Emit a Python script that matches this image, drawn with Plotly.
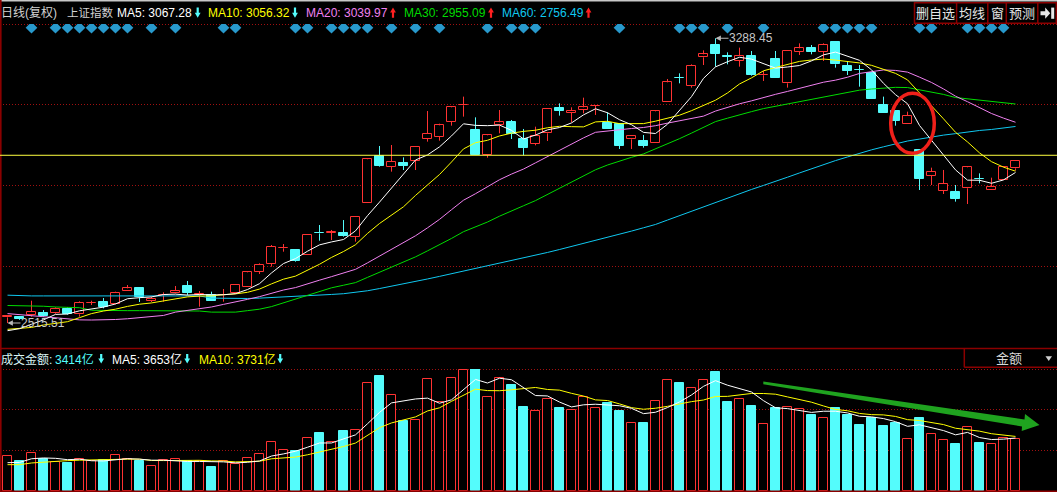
import plotly.graph_objects as go
import pandas as pd

W, H = 1057, 492

# ---------------- data ----------------
opens = [2530.8, 2532.6, 2536.3, 2543.5, 2541.7, 2554.4, 2539.0, 2570.0, 2572.5, 2568.0,
         2601.4, 2610.5, 2575.2, 2590.6, 2597.8, 2615.9, 2592.4, 2590.6, 2590.6, 2596.9,
         2614.1, 2654.8, 2676.6, 2718.2, 2712.7, 2701.0, 2759.8, 2760.7, 2758.9, 2749.9,
         2840.3, 2968.9, 2939.9, 2949.9, 2956.2, 3015.9, 3021.4, 3062.0, 3106.5, 3039.5,
         2970.7, 3052.1, 3061.2, 3015.0, 3002.4, 3030.4, 3099.2, 3085.6, 3094.7, 3104.8,
         3058.5, 3055.7, 3014.1, 3009.6, 3003.3, 3114.5, 3181.5, 3158.9, 3236.7, 3270.2,
         3239.5, 3226.8, 3240.3, 3188.0, 3231.3, 3166.1, 3252.1, 3262.0, 3252.1, 3279.3,
         3213.2, 3203.2, 3193.3, 3107.3, 3091.0, 3054.8, 2985.2, 2915.5, 2874.7, 2871.1,
         2881.1, 2906.4, 2875.6, 2903.7, 2935.4]
highs = [2535.5, 2534.0, 2576.0, 2550.7, 2558.0, 2558.0, 2574.3, 2576.0, 2583.3, 2600.5,
         2618.6, 2610.5, 2587.0, 2598.7, 2615.9, 2629.5, 2602.3, 2600.5, 2607.8, 2617.7,
         2654.8, 2677.5, 2727.2, 2729.9, 2715.5, 2753.5, 2781.5, 2768.0, 2795.0, 2802.3,
         2960.5, 2996.0, 2998.7, 2965.2, 2992.4, 3091.0, 3056.6, 3104.6, 3130.0, 3073.8,
         3027.7, 3093.7, 3066.6, 3042.2, 3048.5, 3095.6, 3111.8, 3101.0, 3127.2, 3107.3,
         3087.4, 3057.5, 3023.2, 3025.9, 3092.7, 3177.9, 3193.3, 3217.7, 3255.7, 3288.45,
         3250.3, 3263.0, 3253.9, 3199.6, 3253.9, 3253.9, 3274.7, 3270.2, 3274.7, 3279.3,
         3225.0, 3215.9, 3193.3, 3130.0, 3091.0, 3089.2, 2985.2, 2937.2, 2930.9, 2890.1,
         2941.7, 2921.8, 2910.0, 2941.7, 2954.4]
lows = [2515.51, 2524.0, 2532.7, 2532.7, 2539.9, 2537.2, 2532.7, 2564.3, 2555.3, 2566.2,
        2601.4, 2572.5, 2572.5, 2573.4, 2596.0, 2591.5, 2559.8, 2576.1, 2573.4, 2594.2,
        2614.1, 2648.5, 2668.4, 2709.1, 2682.0, 2700.0, 2738.9, 2740.8, 2749.9, 2736.3,
        2840.0, 2939.9, 2926.3, 2930.8, 2930.8, 3007.8, 3010.5, 3051.2, 3075.7, 2970.7,
        2964.3, 3030.4, 3015.0, 2970.7, 2997.8, 3009.6, 3078.4, 3060.3, 3084.7, 3080.2,
        3042.2, 2987.9, 2987.9, 2991.5, 3003.3, 3114.5, 3166.1, 3154.4, 3215.9, 3211.4,
        3217.7, 3211.4, 3186.9, 3172.5, 3179.7, 3154.4, 3243.1, 3244.9, 3226.8, 3208.7,
        3188.8, 3157.1, 3123.6, 3086.5, 3051.2, 3054.8, 2876.6, 2890.1, 2865.7, 2844.9,
        2838.5, 2894.6, 2875.6, 2903.7, 2929.0]
closes = [2534.5, 2526.5, 2545.3, 2534.5, 2553.5, 2539.0, 2570.7, 2570.7, 2558.9, 2596.9,
          2609.6, 2585.2, 2580.6, 2591.5, 2602.3, 2596.9, 2593.3, 2576.1, 2591.5, 2617.7,
          2653.0, 2672.9, 2721.8, 2719.1, 2684.7, 2753.5, 2758.9, 2761.6, 2751.7, 2802.3,
          2959.8, 2942.6, 2952.6, 2942.6, 2992.4, 3028.6, 3052.1, 3101.0, 3107.3, 2970.7,
          3025.0, 3060.3, 3028.6, 2991.5, 3023.2, 3095.6, 3091.9, 3091.0, 3101.0, 3105.5,
          3042.2, 2997.0, 3023.2, 2997.0, 3090.0, 3168.8, 3180.5, 3214.1, 3244.9, 3245.8,
          3238.5, 3241.2, 3188.8, 3188.8, 3179.7, 3253.9, 3261.1, 3252.1, 3270.2, 3217.7,
          3200.5, 3202.3, 3123.6, 3086.5, 3063.9, 3077.5, 2907.3, 2925.4, 2892.8, 2853.0,
          2938.1, 2905.5, 2884.7, 2938.1, 2954.4]
volumes = [1486, 1285, 1615, 1383, 1229, 1199, 1383, 1285, 1341, 1529,
           1383, 1285, 1058, 1341, 1358, 1285, 1285, 1028, 1285, 1144,
           1401, 1572, 2086, 1743, 1713, 2257, 2484, 2086, 2570, 2625,
           4638, 4913, 4125, 2985, 3054, 4810, 3825, 4853, 5195, 5212,
           4039, 4853, 4527, 3585, 3439, 3953, 3542, 3482, 4039, 3568,
           3756, 3414, 2925, 2900, 3868, 4767, 4613, 4424, 4741, 5084,
           3799, 3953, 3628, 2882, 3568, 3611, 3525, 3242, 3139, 3568,
           3242, 2814, 3114, 2771, 2912, 2240, 3139, 2454, 2197, 2000,
           2754, 2043, 2026, 2283, 2240]

# moving-average values before a full window exists
ma5_head = [2494.6, 2500.0, 2512.0, 2524.0]
ma10_head = [2498.3, 2501.0, 2503.5, 2510.0, 2514.0, 2519.0, 2530.0, 2541.0, 2548.0]
ma20_head = [2541, 2538, 2535, 2531, 2528, 2526, 2524, 2523.6, 2524, 2525,
             2527, 2530, 2533, 2536, 2545, 2550, 2553.5, 2559, 2566]
ma30_head = [2563, 2563, 2562, 2561, 2559, 2558, 2557, 2550, 2549, 2549,
             2549, 2549, 2549, 2549, 2549, 2548, 2548, 2545, 2544, 2545,
             2549, 2553, 2560, 2570, 2579, 2590, 2601, 2611, 2618]
ma60_head = [2591] + [2589] * 16 + [2583, 2582, 2582, 2582, 2583, 2585, 2587, 2589, 2590.5,
             2592, 2593, 2595, 2598, 2603, 2609, 2615, 2621, 2628, 2635, 2642, 2649, 2656,
             2663, 2670, 2677, 2684, 2691, 2699, 2707, 2715, 2723, 2731, 2739, 2748, 2756.5,
             2765, 2774, 2783, 2795, 2807, 2819, 2831]
vol_ma5_head = [1213, 1225, 1380, 1415]
vol_ma10_head = [1128, 1128, 1200, 1240, 1260, 1300, 1320, 1335, 1345]

signal_idx = [2, 4, 5, 6, 7, 8, 9, 10, 12, 14, 18, 19, 24, 25, 27, 28, 29, 30, 32, 34, 36,
              40, 42, 43, 44, 51, 56, 57, 58, 60, 63, 68, 69, 70, 71, 72, 76, 77, 80, 81, 82, 83]
signal_level = 3317.0
hline_price = 2970.8

header_items = [("日线(复权)", "#D2D2D2"), ("上证指数", "#D2D2D2"),
                ("MA5: 3067.28", "#FFFFFF"), ("MA10: 3056.32", "#FFFF00"),
                ("MA20: 3039.97", "#F080F0"), ("MA30: 2955.09", "#00DC00"),
                ("MA60: 2756.49", "#10C8F0")]
header_trend = ["down", "down", "up", "up", "up"]
vol_header_items = [("成交金额:", "#D8F4F4"), ("3414亿", "#54FCFC"),
                    ("MA5: 3653亿", "#FFFFFF"), ("MA10: 3731亿", "#FFFF00")]
vol_trend = ["down", "down", "down"]
buttons = ["删自选", "均线", "窗", "预测"]

# ---------------- styling ----------------
RED = "#FF3232"
CYAN = "#54FCFC"
GRID = "#A01010"
FRAME = "#8B0000"
FONT = "Liberation Sans, Arial, Noto Sans CJK SC"


def moving(values, n, head):
    s = pd.Series(values, dtype=float).rolling(n).mean().tolist()
    return list(head) + s[len(head):]


n = len(closes)
xs = list(range(n))
ma5 = moving(closes, 5, ma5_head)
ma10 = moving(closes, 10, ma10_head)
ma20 = moving(closes, 20, ma20_head)
ma30 = moving(closes, 30, ma30_head)
ma60 = moving(closes, 60, ma60_head)
vma5 = moving(volumes, 5, vol_ma5_head)
vma10 = moving(volumes, 10, vol_ma10_head)

up = [c >= o for o, c in zip(opens, closes)]

fig = go.Figure()

# wicks
for flag, col in ((True, RED), (False, CYAN)):
    wx, wy = [], []
    for i in xs:
        if up[i] != flag:
            continue
        top = max(opens[i], closes[i])
        bot = min(opens[i], closes[i])
        wx += [i, i, None, i, i, None]
        wy += [highs[i], top, None, bot, lows[i], None]
    fig.add_trace(go.Scatter(x=wx, y=wy, mode="lines", line=dict(color=col, width=1),
                             hoverinfo="skip", connectgaps=False))

# bodies
for flag, fill, col in ((True, "#000000", RED), (False, CYAN, CYAN)):
    bx = [i for i in xs if up[i] == flag]
    fig.add_trace(go.Bar(x=bx, y=[abs(closes[i] - opens[i]) for i in bx],
                         base=[min(opens[i], closes[i]) for i in bx], width=0.7,
                         marker=dict(color=fill, line=dict(color=col, width=1))))

# price moving averages
for vals, col in ((ma60, "#10C8F0"), (ma30, "#00DC00"), (ma20, "#F080F0"),
                  (ma10, "#FFFF00"), (ma5, "#FFFFFF")):
    fig.add_trace(go.Scatter(x=xs, y=vals, mode="lines", line=dict(color=col, width=1)))

# signal diamonds
fig.add_trace(go.Scatter(x=signal_idx, y=[signal_level] * len(signal_idx), mode="markers",
                         marker=dict(symbol="diamond", size=9, color="#2899CC")))

# volume bars
for flag, fill, col in ((True, "#000000", RED), (False, CYAN, CYAN)):
    bx = [i for i in xs if up[i] == flag]
    fig.add_trace(go.Bar(x=bx, y=[volumes[i] for i in bx], width=0.7, yaxis="y2",
                         marker=dict(color=fill, line=dict(color=col, width=1))))
for vals, col in ((vma10, "#FFFF00"), (vma5, "#FFFFFF")):
    fig.add_trace(go.Scatter(x=xs, y=vals, mode="lines", yaxis="y2",
                             line=dict(color=col, width=1)))


def px(x):
    return x / W


def py(y):
    return 1 - y / H


shapes = []


def path_shape(pts, color):
    p = "M " + " L ".join("{},{}".format(px(a), py(b)) for a, b in pts) + " Z"
    shapes.append(dict(type="path", xref="paper", yref="paper", path=p, fillcolor=color,
                       line=dict(width=0)))


def trend_arrow(cx, yt, yb, direction):
    # thick arrow glyph: shaft plus triangular head
    if direction == "down":
        hy = yb - 5.0
        pts = [(cx - 1.1, yt), (cx + 1.1, yt), (cx + 1.1, hy), (cx + 2.9, hy), (cx, yb),
               (cx - 2.9, hy), (cx - 1.1, hy)]
        path_shape(pts, CYAN)
    else:
        hy = yt + 5.0
        pts = [(cx - 1.1, yb), (cx + 1.1, yb), (cx + 1.1, hy), (cx + 2.9, hy), (cx, yt),
               (cx - 2.9, hy), (cx - 1.1, hy)]
        path_shape(pts, "#FF2020")


def hdot(y):
    shapes.append(dict(type="line", xref="paper", yref="paper", x0=0, x1=1, y0=py(y), y1=py(y),
                       line=dict(color=GRID, width=1, dash="1px,2px"), layer="below"))


for y in (24.5, 104.5, 185.5, 266.5, 369.5, 409.5, 450.5):
    hdot(y)

# frame lines
shapes.append(dict(type="rect", xref="paper", yref="paper", x0=0, x1=1, y0=py(1.5), y1=1,
                   fillcolor="#C8C8C8", line=dict(width=0)))
shapes.append(dict(type="line", xref="paper", yref="paper", x0=px(0.8), x1=px(0.8), y0=0, y1=1,
                   line=dict(color=FRAME, width=1.6)))
shapes.append(dict(type="line", xref="paper", yref="paper", x0=0, x1=1, y0=py(348.5), y1=py(348.5),
                   line=dict(color=FRAME, width=1.5)))
shapes.append(dict(type="line", xref="paper", yref="paper", x0=0, x1=1, y0=py(491.3), y1=py(491.3),
                   line=dict(color=FRAME, width=1.5)))

# button box
shapes.append(dict(type="rect", xref="paper", yref="paper", x0=px(914.5), x1=px(1056.3),
                   y0=py(23.3), y1=py(2.7), line=dict(color=FRAME, width=1.5)))
for xd in (956.6, 987.8, 1006.3, 1037.8):
    shapes.append(dict(type="line", xref="paper", yref="paper", x0=px(xd), x1=px(xd),
                       y0=py(23.3), y1=py(2.7), line=dict(color=FRAME, width=1.5)))
# icon
path_shape([(1040.5, 11.2), (1045.2, 11.2), (1045.2, 7.6), (1050.2, 13.2), (1045.2, 18.8),
            (1045.2, 15.2), (1040.5, 15.2)], "#E8E8E8")
shapes.append(dict(type="rect", xref="paper", yref="paper", x0=px(1051.2), x1=px(1054.2),
                   y0=py(18.8), y1=py(7.6), fillcolor="#E8E8E8", line=dict(width=0)))

# 金额 box
shapes.append(dict(type="line", xref="paper", yref="paper", x0=px(964.3), x1=px(964.3),
                   y0=py(367.3), y1=py(348.3), line=dict(color=FRAME, width=1.5)))
shapes.append(dict(type="line", xref="paper", yref="paper", x0=px(964.3), x1=1,
                   y0=py(367.3), y1=py(367.3), line=dict(color=FRAME, width=1.5)))
path_shape([(1045.5, 356.3), (1052.0, 356.3), (1048.75, 361.0)], "#D0D0D0")

# horizontal reference line
shapes.append(dict(type="line", xref="paper", yref="y", x0=0, x1=1, y0=hline_price,
                   y1=hline_price, line=dict(color="#FFFF40", width=1), layer="above"))

# red ellipse
shapes.append(dict(type="circle", xref="paper", yref="paper", x0=px(890.7), x1=px(934.3),
                   y0=py(153.3), y1=py(93.3), line=dict(color="#F0201A", width=3.5)))

# green trend arrow
path_shape([(763.3, 381.6), (1024.5, 419.5), (1025.0, 414.0), (1039.5, 425.0),
            (1021.7, 431.0), (1022.0, 426.5), (763.3, 384.2)], "#1FA31F")

# header trend arrows
for cx, d in zip((197.7, 295.0, 393.0, 491.0, 588.5), header_trend):
    trend_arrow(cx, 7.6, 17.8, d)
for cx, d in zip((101.2, 187.2, 280.2), vol_trend):
    trend_arrow(cx, 354.0, 363.6, d)

annotations = []


def txt(x, y, s, color, size=12, anchor="left"):
    annotations.append(dict(x=px(x), y=py(y), xref="paper", yref="paper", text=s,
                            showarrow=False, xanchor=anchor, yanchor="middle",
                            borderpad=0, borderwidth=0,
                            font=dict(color=color, size=size, family=FONT)))


# header texts
hx = [1.0, 67.0, 116.8, 208.2, 305.6, 403.6, 502.3]
hs = [12, 11.5, 12, 12, 12, 12, 12]
for (s, c), x, sz in zip(header_items, hx, hs):
    txt(x, 13, s, c, size=sz)

for s, xc in zip(buttons, (935.5, 972.2, 997.0, 1022.0)):
    txt(xc, 13.5, s, "#E6E6E6", size=13, anchor="center")

# volume header
vx = [1.0, 55.0, 112.3, 199.0]
for (s, c), x in zip(vol_header_items, vx):
    txt(x, 359, s, c)
txt(1009.5, 358.5, "金额", "#D8D8D8", size=13, anchor="center")

# extreme labels
for xi, yv in ((59, highs[59]), (0, lows[0])):
    annotations.append(dict(x=xi, y=yv, xref="x", yref="y", text="{:.2f}".format(yv),
                            showarrow=True, ax=13, ay=0, arrowhead=2, arrowsize=0.9,
                            arrowwidth=1.2, arrowcolor="#B8B8B8", xanchor="left",
                            yanchor="middle", borderpad=0, borderwidth=0,
                            font=dict(color="#C8C8C8", size=12, family=FONT)))

fig.update_layout(
    width=W, height=H, margin=dict(l=0, r=0, t=0, b=0, pad=0),
    paper_bgcolor="#000000", plot_bgcolor="#000000", showlegend=False,
    barmode="overlay", bargap=0,
    xaxis=dict(range=[-0.625, 87.458], visible=False, fixedrange=True),
    yaxis=dict(domain=[(H - 348) / H, (H - 24) / H], range=[2447.6, 3327.2], visible=False),
    yaxis2=dict(domain=[1 / H, 123 / H], range=[0, 5225.3], visible=False, anchor="x"),
    shapes=shapes, annotations=annotations,
)

fig.write_html("out.html", config={"displayModeBar": False},
               post_script="document.body.style.margin='0';document.body.style.overflow='hidden';")
